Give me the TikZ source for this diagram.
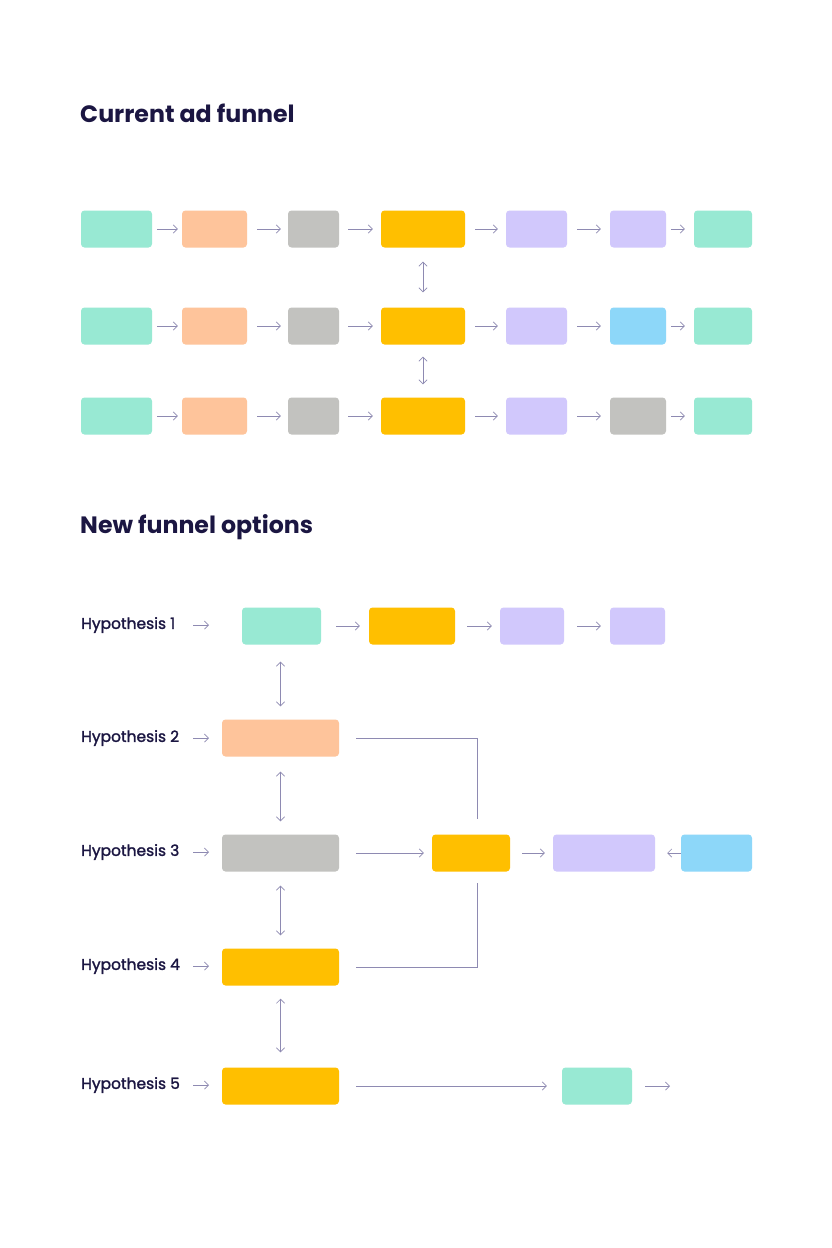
\documentclass[tikz,border=0pt]{standalone}
\usepackage{fontspec}
\setmainfont{Poppins}
\newfontfamily\hypfont{Poppins}[RawFeature={embolden=1.6}]
\usetikzlibrary{arrows.meta}
\definecolor{ink}{HTML}{1B1642}
\definecolor{wire}{HTML}{8E8AB2}
\definecolor{mint}{HTML}{98E9D3}
\definecolor{peach}{HTML}{FEC49B}
\definecolor{stone}{HTML}{C2C2BF}
\definecolor{amber}{HTML}{FFBF00}
\definecolor{lilac}{HTML}{D1C8FC}
\definecolor{sky}{HTML}{8DD7F9}

\begin{document}
\begin{tikzpicture}[
    x=0.03cm, y=-0.03cm,
    box/.style={fill=#1, draw=none, rounded corners=3pt, inner sep=0pt,
        minimum height=37*0.03cm},
    arr/.style={draw=wire, line width=0.6pt, -{Straight Barb[length=3.5pt,width=7pt]}},
    dbl/.style={draw=wire, line width=0.6pt,
        {Straight Barb[length=3.5pt,width=7pt]}-{Straight Barb[length=3.5pt,width=7pt]}},
    link/.style={draw=wire, line width=0.6pt},
    heading/.style={anchor=west, inner sep=0pt, text=ink,
        font=\fontsize{20.2}{24}\selectfont\bfseries},
    hyp/.style={anchor=west, inner sep=0pt, text=ink,
        font=\hypfont\fontsize{13.2}{16}\selectfont}
]
    \fill[white] (0,0) rectangle (832,1248);
    \useasboundingbox (0,0) rectangle (832,1248);

    % current funnel
    \node[heading] (t1) at (80,113) {Current ad funnel};
    \foreach \r/\y/\c in {1/229/lilac,2/326/sky,3/416/stone} {
        \foreach \i/\x/\w/\f in {1/116.5/71/mint,2/214.5/65/peach,3/313.5/51/stone,
                4/423/84/amber,5/536.5/61/lilac,6/638/56/\c,7/723/58/mint}
            \node[box=\f, minimum width=\w*0.03cm] (r\r-\i) at (\x,\y) {};
        \foreach \i/\j/\a/\b in {1/2/5/4,2/3/10/7,3/4/9/8,4/5/10/8,5/6/10/9,6/7/5/9}
            \draw[arr, shorten <=\a*0.03cm, shorten >=\b*0.03cm] (r\r-\i) -- (r\r-\j);
    }
    \draw[dbl, shorten <=14*0.03cm, shorten >=15*0.03cm] (r1-4) -- (r2-4);
    \draw[dbl, shorten <=12*0.03cm, shorten >=13*0.03cm] (r2-4) -- (r3-4);

    % new options
    \node[heading] (t2) at (80,527) {New funnel options};
    \foreach \i/\y in {1/625,2/738,3/852,4/966,5/1085} {
        \node[hyp] (hl\i) at (81,\y) {Hypothesis \i};
        \coordinate (hs\i) at (193,\y);
        \coordinate (he\i) at (209,\y);
        \draw[arr] (hs\i) -- (he\i);
    }

    \node[box=mint, minimum width=79*0.03cm] (h1-1) at (281.5,626) {};
    \node[box=amber, minimum width=86*0.03cm] (h1-2) at (412,626) {};
    \node[box=lilac, minimum width=64*0.03cm] (h1-3) at (532,626) {};
    \node[box=lilac, minimum width=55*0.03cm] (h1-4) at (637.5,626) {};
    \node[box=peach, minimum width=117*0.03cm] (h2-1) at (280.5,738) {};
    \node[box=stone, minimum width=117*0.03cm] (h3-1) at (280.5,853) {};
    \node[box=amber, minimum width=78*0.03cm] (h3-2) at (471,853) {};
    \node[box=lilac, minimum width=102*0.03cm] (h3-3) at (604,853) {};
    \node[box=sky, minimum width=71*0.03cm] (h3-4) at (716.5,853) {};
    \node[box=amber, minimum width=117*0.03cm] (h4-1) at (280.5,967) {};
    \node[box=amber, minimum width=117*0.03cm] (h5-1) at (280.5,1086) {};
    \node[box=mint, minimum width=70*0.03cm] (h5-2) at (597,1086) {};
    \coordinate (h5-end) at (670,1086);

    \draw[arr, shorten <=15*0.03cm, shorten >=9*0.03cm] (h1-1) -- (h1-2);
    \draw[arr, shorten <=12*0.03cm, shorten >=8*0.03cm] (h1-2) -- (h1-3);
    \draw[arr, shorten <=13*0.03cm, shorten >=9*0.03cm] (h1-3) -- (h1-4);

    \draw[dbl, shorten <=17*0.03cm, shorten >=13*0.03cm] ([xshift=-1*0.03cm]h1-1.south) -- (h2-1.north);
    \draw[dbl, shorten <=15*0.03cm, shorten >=13*0.03cm] (h2-1) -- (h3-1);
    \draw[dbl, shorten <=14*0.03cm, shorten >=13*0.03cm] (h3-1) -- (h4-1);
    \draw[dbl, shorten <=13*0.03cm, shorten >=15*0.03cm] (h4-1) -- (h5-1);

    \draw[link, shorten <=17*0.03cm, shorten >=15*0.03cm] (h2-1.east) -| ([xshift=6*0.03cm]h3-2.north);
    \draw[link, shorten <=17*0.03cm, shorten >=11*0.03cm] (h4-1.east) -| ([xshift=6*0.03cm]h3-2.south);
    \draw[arr, shorten <=17*0.03cm, shorten >=8*0.03cm] (h3-1) -- (h3-2);
    \draw[arr, shorten <=12*0.03cm, shorten >=8*0.03cm] (h3-2) -- (h3-3);
    \draw[arr, shorten >=12*0.03cm] (h3-4.west) -- (h3-3.east);
    \draw[arr, shorten <=17*0.03cm, shorten >=15*0.03cm] (h5-1) -- (h5-2);
    \draw[arr, shorten <=13*0.03cm] (h5-2.east) -- (h5-end);
\end{tikzpicture}
\end{document}
